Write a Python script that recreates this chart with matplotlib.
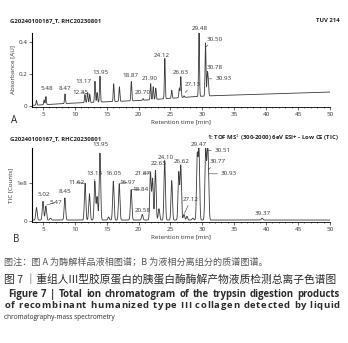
import numpy as np
import matplotlib
matplotlib.use("Agg")
import matplotlib.pyplot as plt
from matplotlib.ticker import MultipleLocator

plt.rcParams['font.family'] = ['Open Sans', 'Noto Sans CJK SC', 'DejaVu Sans']

# panel A: UV trace, peaks (retention time, height above baseline in AU)
rt_a = [4.0, 5.2, 5.48, 8.47, 11.6, 12.0, 12.35, 13.17, 13.5, 13.95, 16.1, 17.0,
        18.87, 20.70, 21.9, 22.3, 22.7, 24.12, 25.2, 26.4, 26.63, 27.13,
        29.48, 30.50, 30.78, 30.93]
h_a = [0.03, 0.03, 0.05, 0.06, 0.05, 0.06, 0.05, 0.13, 0.06, 0.16, 0.11, 0.09,
       0.12, 0.01, 0.10, 0.08, 0.07, 0.25, 0.05, 0.06, 0.13, 0.01,
       0.40, 0.33, 0.14, 0.10]
base_t_a = [3.3, 10, 20, 29, 31.5, 50]
base_v_a = [0.005, 0.02, 0.035, 0.06, 0.065, 0.088]

# labelled peaks in A: text, label position, optional leader end
lab_a = ["5.48", "8.47", "12.35", "13.17", "13.95", "18.87", "20.70", "21.90",
         "24.12", "26.63", "27.13", "29.48", "30.50", "30.78", "30.93"]
lab_a_x = [5.6, 8.5, 10.9, 11.4, 14.0, 18.8, 20.6, 21.8, 23.6, 26.6, 28.5, 29.6, 31.9, 32.0, 33.3]
lab_a_y = [0.095, 0.093, 0.072, 0.138, 0.196, 0.175, 0.072, 0.158, 0.30, 0.195, 0.12, 0.47, 0.40, 0.226, 0.154]
lead_a = {"12.35": (12.3, 0.075), "13.17": (13.1, 0.148), "27.13": (27.3, 0.085),
          "30.50": (30.6, 0.37), "30.78": (30.9, 0.205), "30.93": (31.1, 0.17)}

# panel B: TIC trace (counts / 1e8)
rt_b = [4.0, 5.02, 5.47, 6.2, 8.45, 11.62, 12.3, 13.15, 13.5, 13.95, 15.3, 16.05,
        16.97, 18.84, 20.58, 21.87, 22.2, 22.65, 23.2, 24.10, 25.2, 26.3, 26.62,
        27.12, 27.6, 28.5, 29.2, 29.47, 30.51, 30.77, 30.93, 39.37]
h_b = [0.33, 0.5, 0.37, 0.05, 0.59, 0.98, 0.7, 1.03, 0.62, 1.78, 0.08, 1.03,
       0.97, 0.81, 0.15, 1.27, 1.1, 1.32, 0.3, 1.58, 1.05, 1.27, 1.45,
       0.15, 0.1, 0.05, 1.7, 1.89, 1.82, 1.32, 1.23, 0.05]
lab_b = ["5.02", "5.47", "8.45", "11.62", "13.15", "13.95", "16.05", "16.97", "18.84",
         "20.58", "21.87", "22.65", "24.10", "26.62", "27.12", "29.47", "30.51",
         "30.77", "30.93", "39.37"]
lab_b_x = [5.1, 7.0, 8.5, 10.2, 13.1, 14.0, 16.1, 18.3, 20.3, 20.7, 20.6, 23.2, 24.2,
           26.8, 28.2, 29.5, 33.2, 32.4, 34.2, 39.4]
lab_b_y = [0.62, 0.42, 0.72, 0.95, 1.2, 1.95, 1.2, 0.95, 0.76, 0.22, 1.2, 1.45, 1.62,
           1.5, 0.5, 1.97, 1.8, 1.5, 1.18, 0.12]
lead_b = {"5.47": (5.6, 0.42), "11.62": (11.5, 1.0), "13.15": (13.15, 1.07),
          "16.97": (17.1, 1.0), "18.84": (18.95, 0.84), "21.87": (21.75, 1.27),
          "27.12": (27.2, 0.2), "30.51": (30.7, 1.87), "30.77": (30.9, 1.36),
          "30.93": (31.05, 1.25)}

# caption
cap1 = "图注：图 A 为酶解样品液相图谱；B 为液相分离组分的质谱图谱。"
cap2 = "图 7 ｜重组人III型胶原蛋白的胰蛋白酶酶解产物液质检测总离子色谱图"
cap3 = "Figure 7  |  Total ion chromatogram of the trypsin digestion products"
cap4 = "of recombinant humanized type III collagen detected by liquid"
cap5 = "chromatography-mass spectrometry"

t = np.linspace(3.3, 50, 4000)


def trace(rts, hs, sigma):
    y = np.zeros_like(t)
    for r, h in zip(rts, hs):
        y += h * np.exp(-0.5 * ((t - r) / sigma) ** 2)
    return y


ya = trace(rt_a, h_a, 0.07) + np.interp(t, base_t_a, base_v_a)
yb = trace(rt_b, h_b, 0.11) + 0.02

fig = plt.figure(figsize=(3.48, 3.43), dpi=100)
ink = '#333333'


def style(ax):
    ax.spines['top'].set_visible(False)
    ax.spines['right'].set_visible(False)
    ax.spines['left'].set_linewidth(0.8)
    ax.spines['bottom'].set_linewidth(0.6)
    ax.set_xlim(3.3, 50)
    ax.xaxis.set_major_locator(MultipleLocator(5))
    ax.xaxis.set_minor_locator(MultipleLocator(1))
    ax.tick_params(labelsize=4.5, length=2, width=0.5, pad=1.5, colors=ink)
    ax.tick_params(which='minor', length=1, width=0.4)
    ax.set_xlabel("Retention time [min]", fontsize=4.5, color=ink, labelpad=2)


def labels(ax, names, xs, ys, leads):
    for s, x, y in zip(names, xs, ys):
        if s in leads:
            ax.annotate(s, xy=leads[s], xytext=(x, y), fontsize=4.5, color=ink,
                        ha='center', va='bottom',
                        arrowprops=dict(arrowstyle='-', lw=0.4, color=ink,
                                        shrinkA=0.5, shrinkB=0))
        else:
            ax.text(x, y, s, fontsize=4.5, color=ink, ha='center', va='bottom')


axa = fig.add_axes([0.092, 0.688, 0.856, 0.216])
axa.plot(t, ya, color='#3a3a3a', lw=0.6)
style(axa)
axa.set_ylim(-0.005, 0.455)
axa.set_yticks([0, 0.2, 0.4])
axa.set_yticklabels(["0", "0.2", "0.4"])
axa.set_ylabel("Absorbance [AU]", fontsize=4.5, color=ink, labelpad=2)
labels(axa, lab_a, lab_a_x, lab_a_y, lead_a)

axb = fig.add_axes([0.092, 0.353, 0.856, 0.216])
axb.plot(t, yb, color='#3a3a3a', lw=0.6)
style(axb)
axb.set_ylim(-0.03, 1.94)
axb.set_yticks([0, 1])
axb.set_yticklabels(["0", "1e8"])
axb.set_ylabel("TIC [Counts]", fontsize=4.5, color=ink, labelpad=2)
labels(axb, lab_b, lab_b_x, lab_b_y, lead_b)

fig.text(0.03, 0.936, "G20240100167_T, RHC20230801", fontsize=4.3, weight='bold', color='#222222')
fig.text(0.975, 0.936, "TUV 214", fontsize=4.3, weight='bold', color='#222222', ha='right')
fig.text(0.03, 0.592, "G20240100167_T, RHC20230801", fontsize=4.3, weight='bold', color='#222222')
fig.text(0.975, 0.592, "1: TOF MS$^1$ (300-2000) 6eV ESI+ - Low CE (TIC)", fontsize=4.3,
         weight='bold', color='#222222', ha='right')
fig.text(0.032, 0.642, "A", fontsize=7, color='#222222')
fig.text(0.036, 0.295, "B", fontsize=7, color='#222222')

renderer = fig.canvas.get_renderer()
W = fig.bbox.width


def width_of(s, **kw):
    tx = fig.text(0, 0, s, **kw)
    w = tx.get_window_extent(renderer).width
    tx.remove()
    return w


def justify_words(s, y, x0, x1, **kw):
    words = s.split()
    ws = [width_of(w, **kw) for w in words]
    gap = ((x1 - x0) * W - sum(ws)) / (len(words) - 1)
    x = x0 * W
    for w, wd in zip(words, ws):
        fig.text(x / W, y, w, va='center', **kw)
        x += wd + gap


def justify_chars(s, y, x0, x1, **kw):
    natural = width_of(s, **kw)
    extra = ((x1 - x0) * W - natural) / (len(s) - 1)
    for i, c in enumerate(s):
        if c == ' ':
            continue
        x = x0 * W + (width_of(s[:i], **kw) if i else 0) + i * extra
        fig.text(x / W, y, c, va='center', **kw)


cjk = ['Noto Sans CJK SC', 'DejaVu Sans']
fig.text(0.012, 0.234, cap1, fontsize=6.55, color='#555555', va='center', family=cjk)
fig.text(0.012, 0.182, cap2, fontsize=7.75, color='#2a2a2a', va='center', family=cjk)
justify_words(cap3, 0.142, 0.022, 0.977, fontsize=6.9, weight='bold', color='#2a2a2a')
justify_chars(cap4, 0.108, 0.012, 0.977, fontsize=6.8, weight='bold', color='#2a2a2a')
fig.text(0.012, 0.075, cap5, fontsize=4.7, color='#2a2a2a', va='center',
         family=['Liberation Sans Narrow', 'Open Sans', 'DejaVu Sans'])

fig.savefig("out.png", dpi=100, facecolor='white')
